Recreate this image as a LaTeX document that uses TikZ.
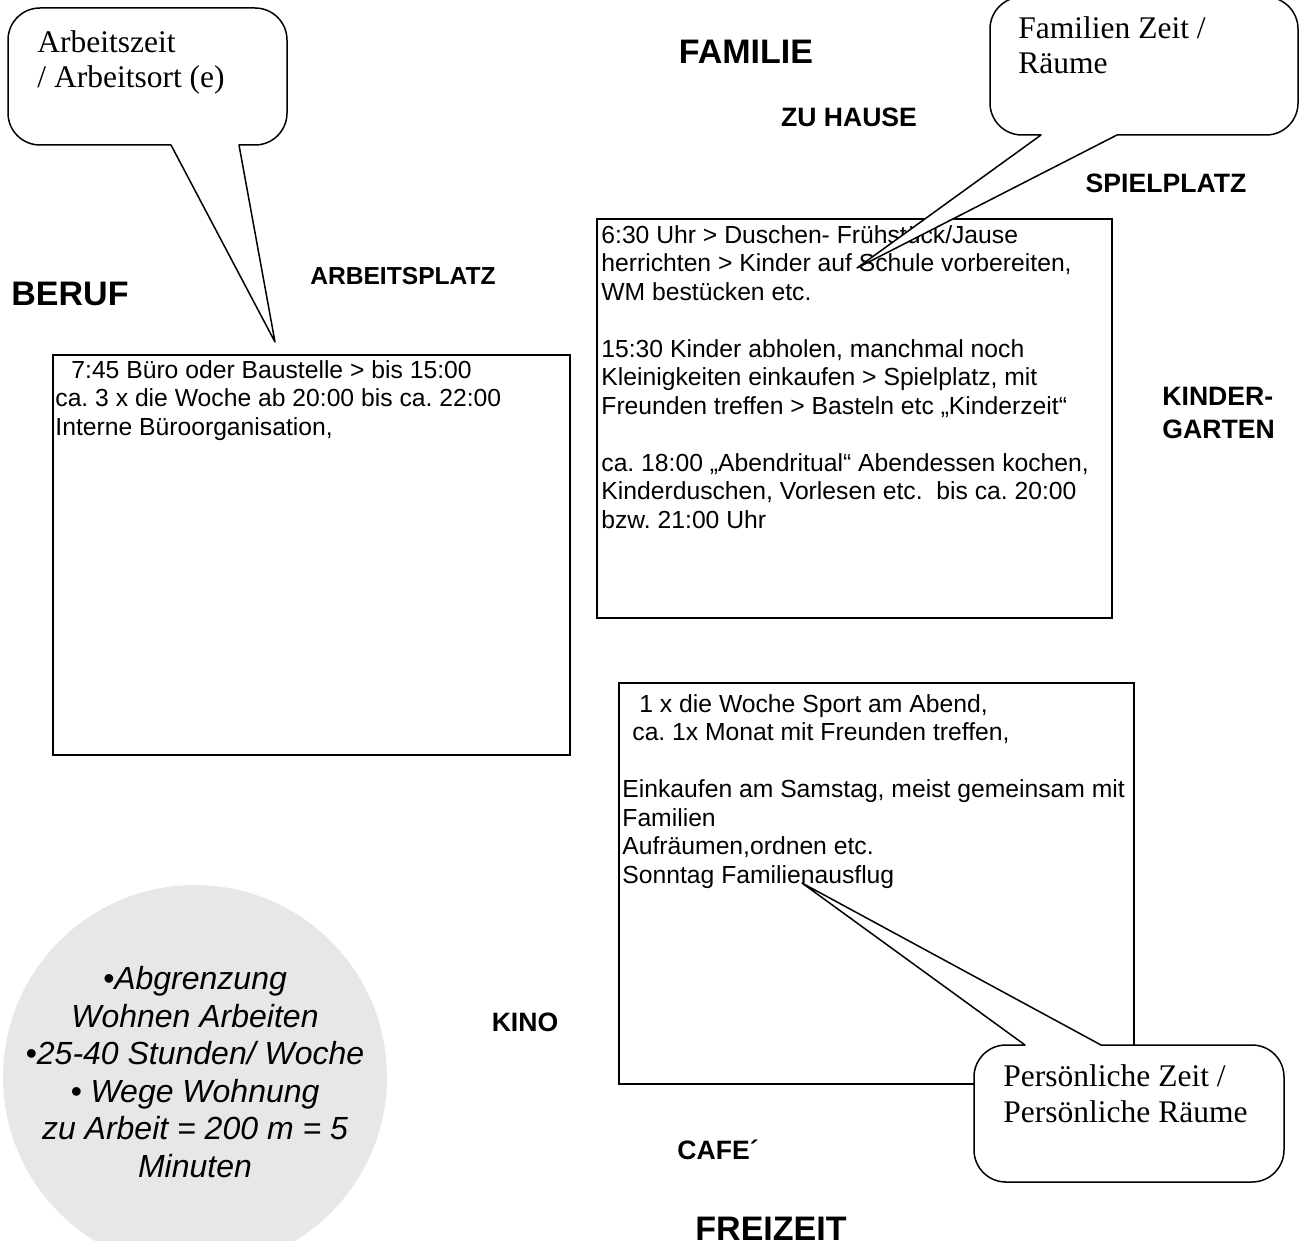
\documentclass[tikz,border=0pt]{standalone}
\usepackage{fontspec}
\setmainfont{Liberation Serif}
\newfontfamily\arial{Liberation Sans}
\definecolor{discgray}{RGB}{230,231,232}

% multi-line nodes are placed by the baseline of their last line
\tikzset{
  biglbl/.style={inner sep=0, font=\arial\bfseries\fontsize{17pt}{20pt}\selectfont},
  lbl/.style={inner sep=0, font=\arial\bfseries\fontsize{13.3pt}{16.5pt}\selectfont},
  body/.style={anchor=base west, align=left, inner sep=0,
    font=\arial\fontsize{12.35pt}{14.25pt}\selectfont},
  bubbletext/.style={anchor=base west, align=left, inner sep=0,
    font=\fontsize{15.75pt}{17.75pt}\selectfont},
  panel/.style={draw, line width=1pt},
  bubble/.style={draw, fill=white, line width=0.75pt, line join=round},
}

\begin{document}
\frenchspacing
\begin{tikzpicture}[x=0.5pt, y=-0.5pt]
\useasboundingbox (0,0) rectangle (1300,1241);
\clip (0,0) rectangle (1300,1241);

% grey disc with the notes on work
\fill[discgray] (195,1077) circle[radius=192];
\node[anchor=base, align=center, inner sep=0,
      font=\arial\itshape\fontsize{16pt}{18.75pt}\selectfont] (notes) at (195,1177)
  {•Abgrenzung\\Wohnen Arbeiten\\•25-40 Stunden/ Woche\\• Wege Wohnung\\zu Arbeit = 200 m = 5\\Minuten};

% area headings
\node[biglbl] (beruf) at (70,294) {BERUF};
\node[biglbl] (familie) at (746,52) {FAMILIE};
\node[biglbl] (freizeit) at (771,1229) {FREIZEIT};
\node[lbl] (zuhause) at (849,117) {ZU HAUSE};
\node[lbl] (spielplatz) at (1166,183) {SPIELPLATZ};
\node[lbl, font=\arial\bfseries\fontsize{12.3pt}{15pt}\selectfont] (arbeitsplatz) at (403,276) {ARBEITSPLATZ};
\node[lbl] (kino) at (525,1022) {KINO};
\node[lbl, anchor=base west] (cafe) at (677,1159) {CAFE´};
\node[lbl, anchor=base west, align=left] (kindergarten) at (1162,438) {KINDER-\\GARTEN};

% work panel
\draw[panel] (53,355) rectangle (570,755);
\node[body] (beruftext) at (55,435)
  {\hspace*{8pt}7:45 Büro oder Baustelle > bis 15:00\\
   ca. 3 x die Woche ab 20:00 bis ca. 22:00\\
   Interne Büroorganisation,};

% family panel
\draw[panel] (597,219) rectangle (1112,618);
\node[body] (familietext) at (601,528)
  {6:30 Uhr > Duschen- Frühstück/Jause\\
   herrichten > Kinder auf Schule vorbereiten,\\
   WM bestücken etc.\\
   ~\\
   15:30 Kinder abholen, manchmal noch\\
   Kleinigkeiten einkaufen > Spielplatz, mit\\
   Freunden treffen > Basteln etc „Kinderzeit“\\
   ~\\
   ca. 18:00 „Abendritual“ Abendessen kochen,\\
   Kinderduschen, Vorlesen etc.\ \ bis ca. 20:00\\
   bzw. 21:00 Uhr};

% leisure panel
\draw[panel] (619,683) rectangle (1134,1084);
\node[body] (freizeittext) at (622,883)
  {\hspace*{8.5pt}1 x die Woche Sport am Abend,\\
   \hspace*{5pt}ca. 1x Monat mit Freunden treffen,\\
   ~\\
   Einkaufen am Samstag, meist gemeinsam mit\\
   Familien\\
   Aufräumen,ordnen etc.\\
   Sonntag Familienausflug};

% speech bubbles
\coordinate (tipberuf) at (275,342);
\coordinate (tipfamilie) at (857,268);
\coordinate (tipfreizeit) at (802,883);

\draw[bubble] (40,8) -- (255,8) arc[start angle=-90, end angle=0, radius=32]
  -- (287,113) arc[start angle=0, end angle=90, radius=32]
  -- (239,145) -- (tipberuf) -- (171,145)
  -- (40,145) arc[start angle=90, end angle=180, radius=32]
  -- (8,40) arc[start angle=180, end angle=270, radius=32] -- cycle;
\node[bubbletext] (bubbleberuf) at (37,88) {Arbeitszeit\\/ Arbeitsort (e)};

\draw[bubble] (1022,-3) -- (1266,-3) arc[start angle=-90, end angle=0, radius=32]
  -- (1298,103) arc[start angle=0, end angle=90, radius=32]
  -- (1117,135) -- (tipfamilie) -- (1041,135)
  -- (1022,135) arc[start angle=90, end angle=180, radius=32]
  -- (990,29) arc[start angle=180, end angle=270, radius=32] -- cycle;
\node[bubbletext] (bubblefamilie) at (1018,74) {Familien Zeit /\\Räume};

\draw[bubble] (1006,1045) -- (1025,1045) -- (tipfreizeit) -- (1101,1045)
  -- (1252,1045) arc[start angle=-90, end angle=0, radius=32]
  -- (1284,1150) arc[start angle=0, end angle=90, radius=32]
  -- (1006,1182) arc[start angle=90, end angle=180, radius=32]
  -- (974,1077) arc[start angle=180, end angle=270, radius=32] -- cycle;
\node[bubbletext] (bubblefreizeit) at (1003,1122) {Persönliche Zeit /\\Persönliche Räume};
\end{tikzpicture}
\end{document}
